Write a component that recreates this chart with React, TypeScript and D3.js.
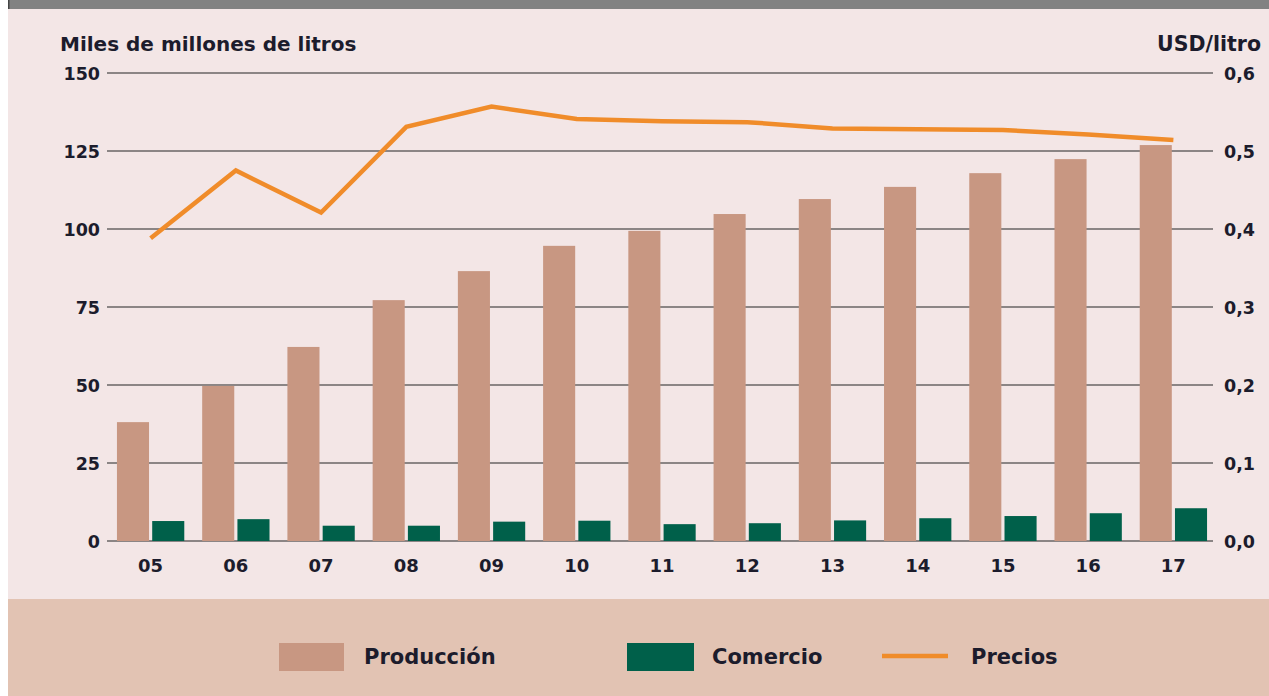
import React from "react";
import * as d3 from "d3";

const years = ["05", "06", "07", "08", "09", "10", "11", "12", "13", "14", "15", "16", "17"];
const produccion = [38.1, 49.7, 62.2, 77.2, 86.5, 94.6, 99.4, 104.8, 109.6, 113.5, 117.9, 122.4, 126.9];
const comercio = [6.4, 7.0, 4.9, 4.9, 6.2, 6.5, 5.4, 5.7, 6.6, 7.3, 8.0, 8.9, 10.5];
const precios = [0.388, 0.475, 0.421, 0.531, 0.557, 0.541, 0.538, 0.537, 0.529, 0.528, 0.527, 0.521, 0.514];
const leftTicks = [0, 25, 50, 75, 100, 125, 150];
const rightTicks = [0, 0.1, 0.2, 0.3, 0.4, 0.5, 0.6];
const seriesNames = ["Producción", "Comercio", "Precios"];

const W = 1269;
const H = 696;
const FONT = "'DejaVu Sans', 'Noto Sans', sans-serif";
const TXT = "#1c1c2c";
const C_PROD = "#c89782";
const C_COM = "#00604a";
const C_PRE = "#f08c2a";

export default function App() {
  const x = d3.scaleBand<string>().domain(years).range([108, 1216]).paddingInner(0.21).paddingOuter(0.105);
  const inner = d3.scaleBand<string>().domain(["p", "c"]).range([0, x.bandwidth()]).paddingInner(0.09);
  const yL = d3.scaleLinear().domain([0, 150]).range([541, 73]);
  const yR = d3.scaleLinear().domain([0, 0.6]).range([541, 73]);
  const cx = (y: string) => (x(y) as number) + x.bandwidth() / 2;
  const line = d3
    .line<number>()
    .x((_, i) => cx(years[i]))
    .y((d) => yR(d));
  const fmtR = (v: number) => v.toFixed(1).replace(".", ",");

  return (
    <div style={{ position: "absolute", left: 0, top: 0 }}>
      <svg width={W} height={H} style={{ display: "block" }} fontFamily={FONT}>
        <rect x={0} y={0} width={W} height={H} fill="#ffffff" />
        <rect x={8} y={0} width={W - 8} height={9} fill="#828282" />
        <rect x={8} y={0} width={1.5} height={9} fill="#444" />
        <rect x={8} y={9} width={W - 8} height={590} fill="#f3e6e6" />
        <rect x={8} y={599} width={W - 8} height={H - 599} fill="#e2c3b3" />

        <text x={60} y={51} fontSize={20} fontWeight={700} fill={TXT}>
          Miles de millones de litros
        </text>
        <text x={1261} y={51} fontSize={20.5} fontWeight={700} fill={TXT} textAnchor="end">
          USD/litro
        </text>

        {leftTicks.map((t) => (
          <g key={"g" + t}>
            <line x1={107} x2={1213} y1={yL(t)} y2={yL(t)} stroke="#8b8585" strokeWidth={2} />
            <text x={100} y={yL(t) + 6.5} fontSize={17.5} fontWeight={700} fill={TXT} textAnchor="end">
              {t}
            </text>
          </g>
        ))}
        {rightTicks.map((t) => (
          <text key={"r" + t} x={1224} y={yR(t) + 6.5} fontSize={17.5} fontWeight={700} fill={TXT}>
            {fmtR(t)}
          </text>
        ))}

        {years.map((yr, i) => (
          <g key={yr}>
            <rect
              x={(x(yr) as number) + (inner("p") as number)}
              y={yL(produccion[i])}
              width={inner.bandwidth()}
              height={yL(0) - yL(produccion[i])}
              fill={C_PROD}
            />
            <rect
              x={(x(yr) as number) + (inner("c") as number)}
              y={yL(comercio[i])}
              width={inner.bandwidth()}
              height={yL(0) - yL(comercio[i])}
              fill={C_COM}
            />
            <text x={cx(yr)} y={572} fontSize={18} fontWeight={700} fill={TXT} textAnchor="middle">
              {yr}
            </text>
          </g>
        ))}

        <path d={line(precios) || ""} fill="none" stroke={C_PRE} strokeWidth={4.5} strokeLinejoin="miter" />

        <g fontSize={21} fontWeight={700} fill={TXT}>
          <rect x={279} y={643} width={65} height={28} fill={C_PROD} />
          <text x={364} y={664}>{seriesNames[0]}</text>
          <rect x={627} y={643} width={67} height={28} fill={C_COM} />
          <text x={712} y={664}>{seriesNames[1]}</text>
          <line x1={882} x2={948} y1={656} y2={656} stroke={C_PRE} strokeWidth={4.5} />
          <text x={971} y={664}>{seriesNames[2]}</text>
        </g>
      </svg>
    </div>
  );
}
